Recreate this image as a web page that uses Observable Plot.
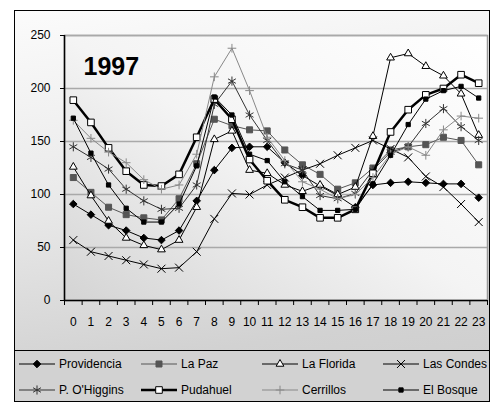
<!DOCTYPE html>
<html><head><meta charset="utf-8">
<script src="https://cdn.jsdelivr.net/npm/d3@7"></script>
<script src="https://cdn.jsdelivr.net/npm/@observablehq/plot@0.6"></script>
<style>
body{margin:0;background:#fff;font-family:"Liberation Sans",Arial,sans-serif;}
#frame{position:absolute;left:14px;top:10px;width:476px;height:392px;border:1px solid #000;box-sizing:border-box;
  background:linear-gradient(172deg,#fbfbfb 0%,#ebebeb 40%,#d2d2d2 80%,#cccccc 100%);overflow:hidden}
#chart svg{display:block}
#legend{position:absolute;left:0;top:339px;width:100%;height:52px;border-top:1px solid #000;background:#d2d2d2;}
.item{position:absolute;display:flex;align-items:center;font-size:12px;color:#000;white-space:nowrap;transform:translateY(-50%)}
.item svg{display:block;margin-right:4px}
</style></head><body>
<div id="frame"><div id="chart"></div><div id="legend"></div></div>
<script>
const hours = [0,1,2,3,4,5,6,7,8,9,10,11,12,13,14,15,16,17,18,19,20,21,22,23];
const yTicks = [0,50,100,150,200,250];
const title = "1997";

const providencia = [91,81,71,66,59,57,66,94,123,144,145,145,130,118,108,99,88,109,111,112,111,110,110,97];
const laPaz       = [116,102,88,81,78,76,96,129,171,165,161,160,142,128,119,105,111,125,142,145,147,154,151,128];
const laFlorida   = [126,99,75,59,52,48,57,88,152,160,123,120,109,103,109,100,107,155,229,233,221,212,195,156];
const lasCondes   = [57,46,42,38,34,30,31,46,77,101,100,109,116,123,129,137,144,151,143,135,117,107,91,74];
const pOHiggins   = [145,135,124,105,94,86,87,109,185,207,175,151,129,123,99,96,101,123,140,145,167,181,164,151];
const pudahuel    = [189,168,144,122,109,108,119,154,190,171,133,113,95,88,78,78,86,120,159,180,194,200,213,205];
const cerrillos   = [170,153,140,130,114,105,109,138,211,238,198,154,132,112,105,96,100,116,138,145,137,161,174,172];
const elBosque    = [172,139,109,87,74,74,91,127,192,175,138,132,112,98,85,85,86,110,137,166,190,198,202,191];

const series = [
  {name:"Providencia", values:providencia, line:"#000", lw:1, symbol:"diamond2", r:3.4, fill:"#000", ms:"#000"},
  {name:"La Paz",      values:laPaz,       line:"#555", lw:1, symbol:"square",   r:3.4, fill:"#555", ms:"#555"},
  {name:"La Florida",  values:laFlorida,   line:"#000", lw:1, symbol:"triangle2",r:3.7, fill:"#fff", ms:"#000"},
  {name:"Las Condes",  values:lasCondes,   line:"#000", lw:1, symbol:"times",    r:3.7, fill:"none", ms:"#000"},
  {name:"P. O'Higgins",values:pOHiggins,   line:"#333", lw:1, symbol:"asterisk", r:4.3, fill:"none", ms:"#333"},
  {name:"Pudahuel",    values:pudahuel,    line:"#000", lw:2.5, symbol:"square2", r:4.2, fill:"#fff", ms:"#000"},
  {name:"Cerrillos",   values:cerrillos,   line:"#888", lw:1, symbol:"plus",     r:2.9, fill:"none", ms:"#888"},
  {name:"El Bosque",   values:elBosque,    line:"#000", lw:1, symbol:"square",   r:2.4, fill:"#000", ms:"#000"}
];

const boundaries = hours.map(h => h - 0.5).concat([hours[hours.length-1] + 0.5]);

const seriesMarks = series.flatMap(s => {
  const rows = s.values.map((v,i) => ({hour: hours[i], value: v}));
  return [
    Plot.line(rows, {x:"hour", y:"value", stroke:s.line, strokeWidth:s.lw}),
    Plot.dot(rows, {x:"hour", y:"value", symbol:s.symbol, r:s.r, fill:s.fill, stroke:s.ms, strokeWidth:1})
  ];
});

const chart = Plot.plot({
  width: 474, height: 339,
  marginLeft: 49, marginRight: 2, marginTop: 24, marginBottom: 50,
  style: {background:"transparent", fontFamily:"'Liberation Sans', Arial, sans-serif", fontSize:"12px", color:"#000"},
  x: {type:"linear", domain:[-0.5, 23.5]},
  y: {domain:[0,250]},
  marks: [
    Plot.frame({fill:"url(#pg)", stroke:"#9a9a9a", strokeWidth:1.5}),
    Plot.gridY(yTicks.slice(1), {stroke:"#a9a9a9", strokeOpacity:1, strokeWidth:1.5}),
    Plot.axisY({ticks:yTicks, tickSize:4, tickPadding:10, fontSize:12, label:null, stroke:"#000"}),
    Plot.axisX({ticks:hours, tickSize:0, tickPadding:17, fontSize:12, label:null, tickFormat:d=>String(d)}),
    Plot.axisX({ticks:boundaries, tickSize:5, tickFormat:()=>"", label:null, stroke:"#000"}),
    Plot.ruleX([-0.5], {stroke:"#000", strokeWidth:1.5}),
    Plot.ruleY([0], {stroke:"#000", strokeWidth:1.5}),
    Plot.text([title], {frameAnchor:"top-left", dx:19, dy:22, fontSize:25, fontWeight:"bold", lineAnchor:"top", fill:"#000"}),
    ...seriesMarks
  ]
});
d3.select(chart).insert("defs", ":first-child").html(
  '<linearGradient id="pg" x1="1" y1="0" x2="0" y2="1"><stop offset="0" stop-color="#ffffff"/><stop offset="0.5" stop-color="#f4f4f4"/><stop offset="1" stop-color="#d4d4d4"/></linearGradient>');
document.getElementById("chart").appendChild(chart);

// legend
const legend = d3.select("#legend");
const colX = [4, 126, 247, 368];
const rowY = [13, 39];
series.forEach((s, i) => {
  const col = i % 4, row = Math.floor(i / 4);
  const item = legend.append("div").attr("class","item")
    .style("left", colX[col] + "px").style("top", rowY[row] + "px");
  const svg = item.append("svg").attr("width", 36).attr("height", 12);
  svg.append("line").attr("x1",0).attr("x2",36).attr("y1",6).attr("y2",6)
    .attr("stroke", s.line).attr("stroke-width", s.lw);
  const symMap = {diamond2:d3.symbolDiamond2, square:d3.symbolSquare, triangle2:d3.symbolTriangle2,
    times:d3.symbolTimes, asterisk:d3.symbolAsterisk, square2:d3.symbolSquare2, plus:d3.symbolPlus};
  svg.append("path").attr("transform","translate(18,6)")
    .attr("d", d3.symbol(symMap[s.symbol], s.r*s.r*Math.PI)())
    .attr("fill", s.fill).attr("stroke", s.ms).attr("stroke-width",1);
  item.append("span").text(s.name);
});
</script>
</body></html>
